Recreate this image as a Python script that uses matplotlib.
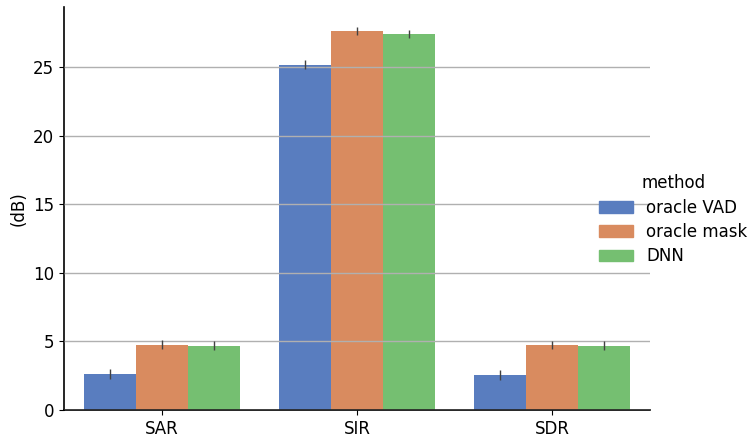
import colorsys
import numpy as np
import matplotlib
matplotlib.use('Agg')
import matplotlib.pyplot as plt
from matplotlib.colors import to_rgb
from matplotlib.patches import Patch

metrics = ['SAR', 'SIR', 'SDR']
methods = ['oracle VAD', 'oracle mask', 'DNN']
means = {
    'oracle VAD': [2.63, 25.2, 2.56],
    'oracle mask': [4.77, 27.65, 4.74],
    'DNN': [4.69, 27.45, 4.69],
}
errs = {
    'oracle VAD': [0.35, 0.3, 0.35],
    'oracle mask': [0.32, 0.3, 0.32],
    'DNN': [0.32, 0.3, 0.32],
}
base_colors = ['#4878d0', '#ee854a', '#6acc64']


def desat(c, s=0.75):
    h, l, sat = colorsys.rgb_to_hls(*to_rgb(c))
    return colorsys.hls_to_rgb(h, l, sat * s)


colors = [desat(c) for c in base_colors]

plt.rcParams['font.size'] = 12
fig = plt.figure(figsize=(7.53, 4.37), dpi=100)
ax = fig.add_axes([0.085, 0.062, 0.778, 0.922])

x = np.arange(len(metrics))
w = 0.8 / len(methods)
for i, m in enumerate(methods):
    pos = x - 0.4 + w * (i + 0.5)
    ax.bar(pos, means[m], width=w, color=colors[i], linewidth=0)
    ax.vlines(pos, np.array(means[m]) - np.array(errs[m]),
              np.array(means[m]) + np.array(errs[m]),
              color='#424242', linewidth=1, zorder=3)

ax.set_xticks(x)
ax.set_xticklabels(metrics)
ax.set_xlim(-0.5, 2.5)
ax.set_ylim(0, 29.4)
ax.set_yticks([0, 5, 10, 15, 20, 25])
ax.set_ylabel('(dB)')
ax.yaxis.grid(True, color='#b0b0b0', linewidth=1)
ax.set_axisbelow(False)
for s in ['top', 'right']:
    ax.spines[s].set_visible(False)
for s in ['left', 'bottom']:
    ax.spines[s].set_linewidth(1.2)

handles = [Patch(color=colors[i], label=m) for i, m in enumerate(methods)]
fig.legend(handles=handles, title='method', loc='center left',
           bbox_to_anchor=(0.776, 0.497), frameon=False, fontsize=12,
           title_fontsize=12, labelspacing=0.38)

fig.savefig('out.png', dpi=100)
